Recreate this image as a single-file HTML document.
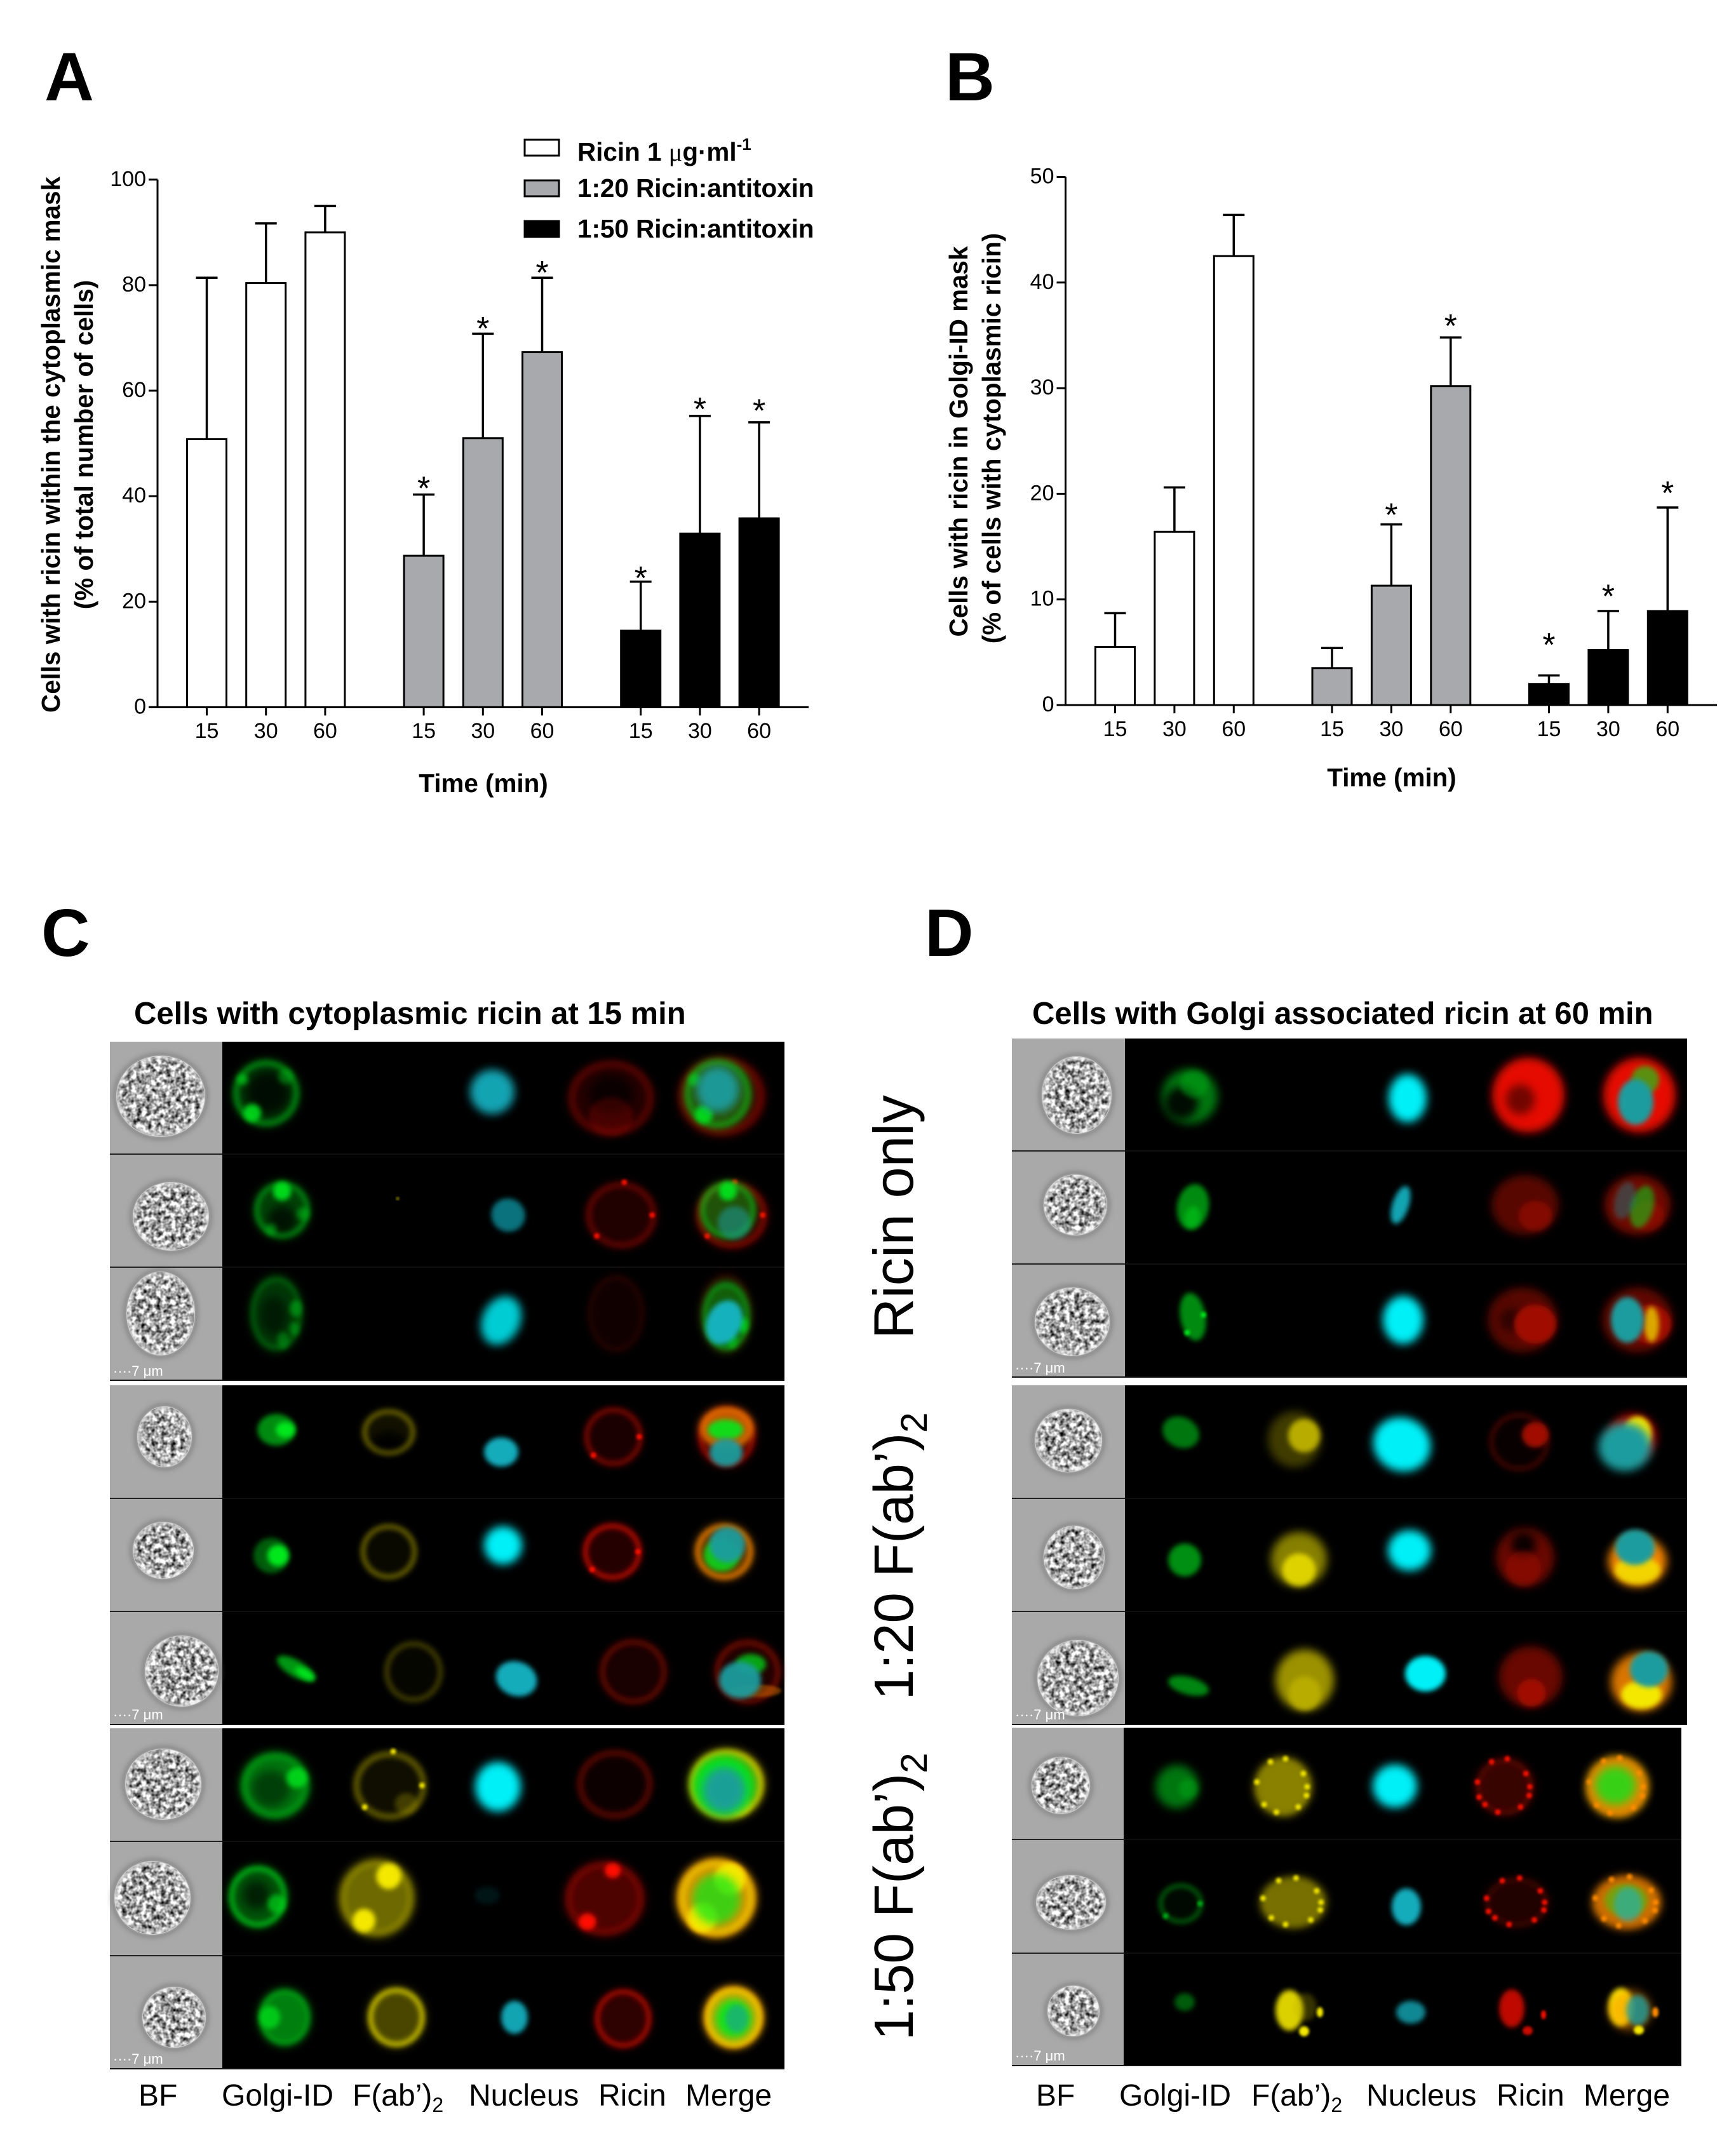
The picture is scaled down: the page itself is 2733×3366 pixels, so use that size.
<!DOCTYPE html>
<html lang="en">
<head>
<meta charset="utf-8">
<title>Ricin antitoxin figure</title>
<style>
html,body{margin:0;padding:0;background:#fff;}
svg{display:block;font-family:"Liberation Sans",Arial,sans-serif;}
.b{font-weight:bold;}
</style>
</head>
<body>
<svg id="fig" xmlns="http://www.w3.org/2000/svg" width="2733" height="3366" viewBox="0 0 2733 3366">
<defs>
<filter id="grain" x="-5%" y="-5%" width="110%" height="110%" color-interpolation-filters="sRGB">
<feTurbulence type="fractalNoise" baseFrequency="0.13" numOctaves="2" seed="4" result="n"/>
<feColorMatrix in="n" type="matrix" values="1.9 0 0 0 -0.3  1.9 0 0 0 -0.3  1.9 0 0 0 -0.3  0 0 0 0 1" result="c"/>
<feComposite in="c" in2="SourceGraphic" operator="in"/>
</filter>
<filter id="b2" x="-30%" y="-30%" width="160%" height="160%"><feGaussianBlur stdDeviation="2"/></filter>
<filter id="b4" x="-40%" y="-40%" width="180%" height="180%"><feGaussianBlur stdDeviation="4"/></filter>
<filter id="b7" x="-60%" y="-60%" width="220%" height="220%"><feGaussianBlur stdDeviation="7"/></filter>
</defs>
<rect width="2733" height="3366" fill="#fff"/>

<text class="b" x="70" y="158" font-size="108">A</text>
<text class="b" x="1488" y="158" font-size="108">B</text>
<text class="b" x="65" y="1505" font-size="106">C</text>
<text class="b" x="1456" y="1505" font-size="106">D</text>

<g id="chartA"></g>
<g id="chartB"></g>

<text class="b" font-size="40.4" text-anchor="middle" transform="translate(94,700) rotate(-90)">Cells with ricin within the cytoplasmic mask</text>
<text class="b" font-size="40.4" text-anchor="middle" transform="translate(146,700) rotate(-90)">(% of total number of cells)</text>
<text class="b" font-size="40.4" text-anchor="middle" x="761" y="1247">Time (min)</text>
<text class="b" font-size="40.4" text-anchor="middle" transform="translate(1523,695) rotate(-90)">Cells with ricin in Golgi-ID mask</text>
<text class="b" font-size="40.4" text-anchor="middle" transform="translate(1575,690) rotate(-90)">(% of cells with cytoplasmic ricin)</text>
<text class="b" font-size="40.4" text-anchor="middle" x="2191" y="1238">Time (min)</text>

<g>
<rect x="826" y="220" width="54" height="25" fill="#fff" stroke="#000" stroke-width="3"/>
<text class="b" font-size="40.4" x="909" y="253">Ricin 1 <tspan font-family="'Liberation Serif',serif" font-weight="normal">μ</tspan>g·ml<tspan font-size="26" dy="-17">-1</tspan></text>
<rect x="826" y="284" width="54" height="25" fill="#a7a9ac" stroke="#000" stroke-width="3"/>
<text class="b" font-size="40.4" x="909" y="310">1:20 Ricin:antitoxin</text>
<rect x="826" y="348" width="54" height="25" fill="#000" stroke="#000" stroke-width="3"/>
<text class="b" font-size="40.4" x="909" y="374">1:50 Ricin:antitoxin</text>
</g>

<text class="b" font-size="49" x="211" y="1612">Cells with cytoplasmic ricin at 15 min</text>
<text class="b" font-size="49" x="1625" y="1612">Cells with Golgi associated ricin at 60 min</text>

<g id="panelC"></g>
<g id="panelD"></g>

<text font-size="88.5" text-anchor="middle" transform="translate(1437,1916) rotate(-90)">Ricin only</text>
<text font-size="87" text-anchor="middle" transform="translate(1437,2450) rotate(-90)">1:20 F(ab’)<tspan font-size="58" dy="22">2</tspan></text>
<text font-size="87" text-anchor="middle" transform="translate(1437,2986) rotate(-90)">1:50 F(ab’)<tspan font-size="58" dy="22">2</tspan></text>

<g font-size="48">
<text x="218" y="3315">BF</text>
<text x="349" y="3315">Golgi-ID</text>
<text x="555" y="3315">F(ab’)<tspan font-size="32" dy="10">2</tspan></text>
<text x="738" y="3315">Nucleus</text>
<text x="942" y="3315">Ricin</text>
<text x="1079" y="3315">Merge</text>
</g>
<g font-size="48">
<text x="1631" y="3315">BF</text>
<text x="1762" y="3315">Golgi-ID</text>
<text x="1970" y="3315">F(ab’)<tspan font-size="32" dy="10">2</tspan></text>
<text x="2151" y="3315">Nucleus</text>
<text x="2356" y="3315">Ricin</text>
<text x="2493" y="3315">Merge</text>
</g>
</svg>

<script>
// ---- Chart data ----
const timeLabels = ['15','30','60'];
const groupFills = ['#ffffff','#a7a9ac','#000000'];
const ticksA = [0,20,40,60,80,100];
const meansA = [[50.8,80.4,90],[28.7,51,67.3],[14.5,32.9,35.8]];
const errorTopsA = [[81.4,91.7,95],[40.3,70.8,81.4],[23.8,55.2,54]];
const starLevelsA = [[null,null,null],[42.7,73,83.6],[25.7,57.7,57.4]];
const ticksB = [0,10,20,30,40,50];
const meansB = [[5.5,16.4,42.5],[3.5,11.3,30.2],[2,5.2,8.9]];
const errorTopsB = [[8.7,20.6,46.4],[5.4,17.1,34.8],[2.8,8.9,18.7]];
const starLevelsB = [[null,null,null],[null,18.6,36.5],[6.3,10.9,20.7]];

const NS = 'http://www.w3.org/2000/svg';
function el(tag, attrs, parent){
  const e = document.createElementNS(NS, tag);
  for (const k in attrs) e.setAttribute(k, attrs[k]);
  if (parent) parent.appendChild(e);
  return e;
}

function drawChart(root, o){
  const yScale = v => o.y0 + (o.y1 - o.y0) * v / o.max;
  const xScale = (g, i) => o.xStart + g * o.groupStep + i * o.barStep;
  const axY = el('line', {x1:o.axisX, x2:o.axisX, y1:o.y1, y2:o.y0, stroke:'#000','stroke-width':3}, root);
  
  
  const axX = el('line', {x1:o.axisX-14, x2:o.xEnd, y1:o.y0, y2:o.y0, stroke:'#000','stroke-width':3}, root);
  
  
  o.ticks.forEach(t => {
    const y = yScale(t);
    el('line', {x1:o.axisX-14, x2:o.axisX, y1:y, y2:y, stroke:'#000','stroke-width':3}, root);
    const lab = el('text', {x:o.axisX-18, y:y+10, 'font-size':34, 'text-anchor':'end'}, root);
    lab.textContent = t;
    
    
  });
  o.means.forEach((series, g) => {
    series.forEach((v, i) => {
      const cx = xScale(g, i);
      const top = yScale(o.tops[g][i]);
      const errLine = el('line', {x1:cx, x2:cx, y1:yScale(v), y2:top, stroke:'#000','stroke-width':3.5}, root);
      
      
      el('line', {x1:cx-17, x2:cx+17, y1:top, y2:top, stroke:'#000','stroke-width':3.5}, root);
      const bar = el('rect', {x:cx-o.barWidth/2, y:yScale(v), width:o.barWidth, height:o.y0-yScale(v), fill:groupFills[g], stroke:'#000','stroke-width':3}, root);
      
      
      el('line', {x1:cx, x2:cx, y1:o.y0, y2:o.y0+13, stroke:'#000','stroke-width':3}, root);
      const lab = el('text', {x:cx, y:o.tickBase, 'font-size':34, 'text-anchor':'middle'}, root);
      lab.textContent = timeLabels[i];
      
      
      const s = o.stars[g][i];
      if (s !== null){
        const star = el('text', {x:cx, y:yScale(s)+28, 'font-size':52, 'text-anchor':'middle'}, root);
        star.textContent = '*';
        
        
      }
    });
  });
}
drawChart(document.getElementById('chartA'), {
  axisX:248, xEnd:1273, y0:1113.4, y1:282.8, max:100, ticks:ticksA,
  xStart:325.5, groupStep:341.6, barStep:93.2, barWidth:62, tickBase:1162,
  means:meansA, tops:errorTopsA, stars:starLevelsA
});
drawChart(document.getElementById('chartB'), {
  axisX:1677.5, xEnd:2703, y0:1110, y1:278.5, max:50, ticks:ticksB,
  xStart:1755.5, groupStep:341.5, barStep:93.4, barWidth:62, tickBase:1159,
  means:meansB, tops:errorTopsB, stars:starLevelsB
});

// ---- Micrograph illustration ----
const G='#00e81a', GD='#00a814', Y='#f4e800', YD='#b8ac00', C='#00f0f8', CD='#12b6c6', CM='#0c8f9c', R='#ff0c00', RD='#a01000', O='#ff8a00', T='#1a9c9e';
// layer: [color,x,y,rx,ry,fill,ring,hots,hole,dots,rotation]
const rowsC = [
 {bf:[253,1726,70,64], g:[[G,419,1721,54,54,.22,.4,[[125,.85,.26],[-150,.6,.16],[-40,.35,.22]],[.05,0,.62,.75]]], f:[], n:[[CD,775,1719,35,35,.9]],
  r:[[R,962,1729,70,61,.14,.18,[[90,.16,.5]],[0,-.1,.5,.7]]], m:[[R,1136,1726,70,64,.24,.18],[G,1130,1722,54,56,.35,.4,[[125,.85,.26],[-150,.6,.18]]],[T,1130,1715,34,36,.95]]},
 {bf:[269,1915,60,54], g:[[G,444,1905,45,46,.28,.4,[[-90,.9,.32],[10,.4,.22],[120,.4,.2]],[0,.35,.5,.7]]], f:[[Y,626,1887,2,2,1]], n:[[CM,800,1913,27,26,.8,0,null,null,0,30]],
  r:[[R,978,1913,58,54,.13,.24,null,null,3]], m:[[R,1152,1913,58,54,.2,.3,null,null,3],[G,1146,1905,45,46,.35,.45,[[-90,.9,.32]]],[T,1156,1925,26,26,.55]]},
 {bf:[253,2068,54,66], g:[[GD,435,2068,42,61,.32,.35,[[-10,.7,.22],[30,.6,.18],[70,.5,.22]],[-.1,.05,.5,.5]]], f:[], n:[[C,789,2079,30,40,.85,0,null,null,0,25]],
  r:[[RD,970,2068,46,64,.1,.12]], m:[[RD,1143,2068,42,64,.2,.12],[G,1143,2072,38,56,.4,.4,[[20,.7,.22],[70,.5,.22]]],[CD,1140,2082,27,36,.95,0,null,null,0,25]]},
 {bf:[259,2262,43,48], g:[[G,435,2251,30,25,.6,0,[[0,1,.5]]]], f:[[YD,612,2255,43,37,.1,.5,null,[0,.7,.75,.95]]], n:[[CD,789,2286,27,23,.95]],
  r:[[R,966,2262,48,48,.1,.38,null,null,2]], m:[[R,1144,2262,46,48,.3,.4],[O,1144,2248,42,32,.65,.5],[G,1142,2251,28,16,.9],[T,1143,2287,26,22,.95]]},
 {bf:[257,2441,48,45], g:[[G,427,2449,28,28,.4,0,[[0,1,.6]]]], f:[[YD,612,2443,46,45,.05,.5]], n:[[C,792,2433,30,30,1]],
  r:[[R,964,2443,48,46,.14,.6,null,null,2]], m:[[O,1140,2443,47,45,.4,.7],[G,1136,2448,28,26,.8],[T,1145,2432,28,28,.95]]},
 {bf:[286,2631,58,56], g:[[G,466,2627,34,13,.65,0,[[0,1,.5]],null,0,30]], f:[[YD,651,2632,48,50,.03,.3]], n:[[CD,813,2643,33,27,.95,0,null,null,0,20]],
  r:[[RD,997,2632,55,53,.15,.45]], m:[[RD,1177,2632,54,52,.2,.5],[O,1190,2662,40,10,.4],[G,1182,2620,24,16,.7],[T,1165,2645,33,29,.95]]},
 {bf:[257,2809,60,56], g:[[G,433,2811,55,53,.5,.3,[[-20,.8,.3]],[-.12,.1,.55,.45]]], f:[[YD,614,2811,60,56,.08,.42,[[50,.3,.3]],null,3]], n:[[C,784,2813,36,39,1]],
  r:[[RD,968,2809,62,56,.08,.42]], m:[[Y,1144,2809,60,56,.55,.6,[[60,.5,.3]]],[G,1140,2811,50,48,.95],[T,1140,2818,34,36,.95]]},
 {bf:[240,2988,60,58], g:[[G,406,2986,47,50,.35,.6,[[20,.6,.3]],[-.05,-.05,.45,.6]]], f:[[Y,593,2988,60,62,.45,.2,[[-60,1,.33],[120,1,.3]]]], n:[[CM,767,2984,20,14,.15]],
  r:[[R,952,2989,64,60,.3,.2,[[-75,1,.2],[125,1,.22]]]], m:[[O,1128,2988,62,62,.8,.4,[[-55,1,.4],[125,1,.38]]],[Y,1128,2988,62,62,.3,.4,[[-55,1,.38],[125,1,.35]]],[G,1128,2990,38,40,.7]]},
 {bf:[274,3176,50,48], g:[[G,448,3176,41,45,.55,.4,[[180,.7,.4]]]], f:[[Y,624,3176,46,48,.3,.7]], n:[[CD,810,3176,21,26,.9]],
  r:[[R,981,3178,46,48,.18,.55]], m:[[O,1155,3176,46,48,.8,.7],[Y,1155,3176,46,48,.4,.5],[G,1155,3178,30,32,.9],[T,1160,3178,18,22,.6]]}
];
const rowsD = [
 {bf:[1695,1724,55,61], g:[[GD,1873,1726,44,43,.7,0,[[-70,.5,.5]],[-.3,.25,.6,.9]]], f:[], n:[[C,2216,1729,30,38,1]],
  r:[[R,2406,1724,57,59,.9,0,null,[-.22,.12,.4,.5]]], m:[[R,2581,1724,57,59,.9],[G,2590,1700,22,22,.6],[T,2575,1735,28,36,1]]},
 {bf:[1693,1897,50,48], g:[[G,1878,1900,25,36,.6,0,[[80,.4,.5]],null,0,10]], f:[], n:[[CD,2205,1897,13,31,.9,0,null,null,0,18]],
  r:[[RD,2401,1897,53,47,.55,0,[[50,.6,.5]]]], m:[[RD,2578,1897,52,47,.7,0,[[50,.5,.5]]],[G,2585,1900,18,34,.5,0,null,null,0,15],[CM,2558,1890,16,30,.4,0,null,null,0,15]]},
 {bf:[1688,2081,59,54], g:[[G,1878,2073,20,38,.6,0,null,null,2,-10]], f:[], n:[[C,2209,2078,32,38,1]],
  r:[[RD,2397,2078,55,51,.55,0,[[20,1,.6]],[-.3,0,.35,.5]]], m:[[RD,2578,2078,55,51,.6,0,[[20,1,.6]]],[Y,2600,2085,12,28,.7],[T,2562,2078,26,36,1]]},
 {bf:[1682,2268,53,50], g:[[GD,1859,2255,30,24,.7,0,null,null,0,25]], f:[[YD,2038,2266,42,44,.35,0,[[-20,1,.6]]]], n:[[C,2207,2274,46,42,1,0,null,null,0,25]],
  r:[[RD,2392,2270,50,48,.05,.3,[[-25,1,.42]]]], m:[[R,2570,2262,38,36,.7],[Y,2578,2256,22,26,1],[T,2558,2278,42,38,1]]},
 {bf:[1691,2452,48,50], g:[[GD,1865,2456,26,26,.85]], f:[[Y,2045,2455,44,43,.55,0,[[90,.8,.6]]]], n:[[C,2219,2441,34,32,1]],
  r:[[RD,2401,2452,46,46,.65,0,[[100,.5,.6]],[-.05,-.45,.42,.9]]], m:[[O,2578,2458,46,40,.95],[Y,2578,2472,36,22,.8],[T,2574,2436,31,28,1]]},
 {bf:[1697,2642,64,60], g:[[GD,1871,2654,33,14,.8,0,null,null,0,15]], f:[[YD,2054,2645,46,48,.85,0,[[90,1,.55]]]], n:[[C,2244,2635,32,28,1]],
  r:[[RD,2410,2640,50,48,.65,0,[[88,1,.45]]]], m:[[O,2584,2648,48,46,.85],[Y,2584,2668,32,22,1],[T,2596,2628,30,28,1]]},
 {bf:[1670,2811,46,45], g:[[GD,1853,2813,34,34,.7,0,[[10,.5,.45]]]], f:[[YD,2020,2813,45,46,.75,.3,null,null,9]], n:[[C,2196,2812,35,34,1]],
  r:[[RD,2369,2813,47,46,.35,.3,null,null,10]], m:[[Y,2546,2813,48,47,.6],[O,2546,2813,48,47,.7,.4,null,null,9],[G,2543,2811,32,30,.75]]},
 {bf:[1686,2995,55,43], g:[[GD,1859,2997,36,32,.05,.55,null,null,2]], f:[[YD,2036,2995,52,40,.65,.2,null,null,9]], n:[[CD,2214,3002,23,29,.95]],
  r:[[RD,2388,2995,52,40,.2,.2,null,null,10]], m:[[O,2561,2995,54,42,.8,.2,null,null,9],[G,2560,2992,34,26,.4],[CD,2563,2998,22,27,.6]]},
 {bf:[1690,3166,41,40], g:[[GD,1865,3152,16,14,.55]], f:[[Y,2030,3165,22,32,.9],[YD,2055,3160,18,22,.3],[Y,2053,3198,8,8,1],[Y,2078,3168,5,8,1]], n:[[CD,2221,3168,23,18,.75]],
  r:[[R,2380,3162,20,30,.75],[R,2405,3197,8,7,.8],[R,2430,3172,4,7,1]], m:[[Y,2552,3160,20,30,1],[O,2566,3165,34,32,.5],[T,2578,3165,18,24,.8],[Y,2580,3196,8,7,1],[O,2606,3168,5,8,1]]}
];

function drawLayer(parent, L){
  const [col,x,y,rx,ry,fill,ring,hots,hole,dots,rot] = L;
  const g = el('g', rot ? {transform:`rotate(${rot} ${x} ${y})`} : {}, parent);
  const m = Math.min(rx,ry);
  const fillBlur = m < 12 ? 'url(#b2)' : (m < 30 ? 'url(#b4)' : 'url(#b7)');
  if (fill) el('ellipse', {cx:x, cy:y, rx:rx, ry:ry, fill:col, opacity:fill, filter:fillBlur}, g);
  if (hole) el('ellipse', {cx:x+hole[0]*rx, cy:y+hole[1]*ry, rx:hole[2]*rx, ry:hole[2]*ry, fill:'#000', opacity:hole[3], filter:'url(#b7)'}, g);
  if (ring) el('ellipse', {cx:x, cy:y, rx:rx*.88, ry:ry*.88, fill:'none', stroke:col, 'stroke-width':Math.max(6,rx*.18), opacity:ring, filter:'url(#b4)'}, g);
  (hots||[]).forEach(h => {
    const a = h[0]*Math.PI/180, s = h[2];
    el('ellipse', {cx:x+Math.cos(a)*rx*(1-s)*.95, cy:y+Math.sin(a)*ry*(1-s)*.95, rx:rx*s, ry:ry*s, fill:col, opacity:h[1], filter:'url(#b4)'}, g);
  });
  for (let i=0;i<(dots||0);i++){
    const a = i*2.4;
    const k = .84 + .12*((i*7)%5)/4;
    el('circle', {cx:x+Math.cos(a)*rx*k, cy:y+Math.sin(a)*ry*k, r:4.5, fill:col==RD?R:(col==YD?Y:col), filter:'url(#b2)'}, g);
  }
}
function drawBF(parent, b){
  const [x,y,rx,ry] = b;
  el('ellipse', {cx:x, cy:y, rx:rx+5, ry:ry+5, fill:'#666', opacity:.5, filter:'url(#b4)'}, parent);
  el('ellipse', {cx:x, cy:y, rx:rx, ry:ry, fill:'#c4c4c4'}, parent);
  el('ellipse', {cx:x, cy:y, rx:rx-1, ry:ry-1, fill:'#fff', filter:'url(#grain)'}, parent);
  el('ellipse', {cx:x, cy:y, rx:rx-3, ry:ry-3, fill:'none', stroke:'#e6e6e6', 'stroke-width':4, opacity:.8, filter:'url(#b2)'}, parent);
}
function drawBlock(root, P, rows, edges, labelYs, blockName){
  const [left, bfRight, right] = P;
  const top = edges[0], bot = edges[3];
  const black = el('rect', {x:bfRight, y:top, width:right-bfRight, height:bot-top, fill:'#000'}, root);
  
  
  const bf = el('rect', {x:left, y:top, width:bfRight-left, height:bot-top, fill:'#a9a9a9'}, root);
  
  
  rows.forEach((row, i) => {
    const cell = el('g', {}, root);
    
    
    drawBF(cell, row.bf);
    [['golgi',row.g],['fab',row.f],['nucleus',row.n],['ricin',row.r],['merge',row.m]].forEach(pair => {
      const g = el('g', {}, root);
      
      
      pair[1].forEach(L => drawLayer(g, L));
    });
  });
  [edges[1], edges[2]].forEach(y => {
    el('line', {x1:left, x2:bfRight, y1:y, y2:y, stroke:'#222', 'stroke-width':2}, root);
    el('line', {x1:bfRight, x2:right, y1:y, y2:y, stroke:'#161616', 'stroke-width':1.5}, root);
  });
  el('line', {x1:left, x2:right, y1:bot, y2:bot, stroke:'#111', 'stroke-width':2}, root);
  const sb = el('text', {x:left+5, y:labelYs, 'font-size':22, fill:'#fff'}, root);
  sb.textContent = '····7 μm';
  
  
}
const pc = document.getElementById('panelC'), pd = document.getElementById('panelD');
const geoC = [173,350,1235];
drawBlock(pc, geoC, rowsC.slice(0,3), [1640,1817,1995,2173], 2166, 'c-ricin-only');
drawBlock(pc, geoC, rowsC.slice(3,6), [2181,2359,2537,2715], 2707, 'c-1-20');
drawBlock(pc, geoC, rowsC.slice(6,9), [2721,2899,3079,3257], 3249, 'c-1-50');
drawBlock(pd, [1593,1771,2656], rowsD.slice(0,3), [1635,1812,1990,2168], 2161, 'd-ricin-only');
drawBlock(pd, [1593,1771,2656], rowsD.slice(3,6), [2181,2359,2537,2715], 2707, 'd-1-20');
drawBlock(pd, [1593,1769,2647], rowsD.slice(6,9), [2720,2896,3075,3252], 3244, 'd-1-50');
</script>
</body>
</html>
